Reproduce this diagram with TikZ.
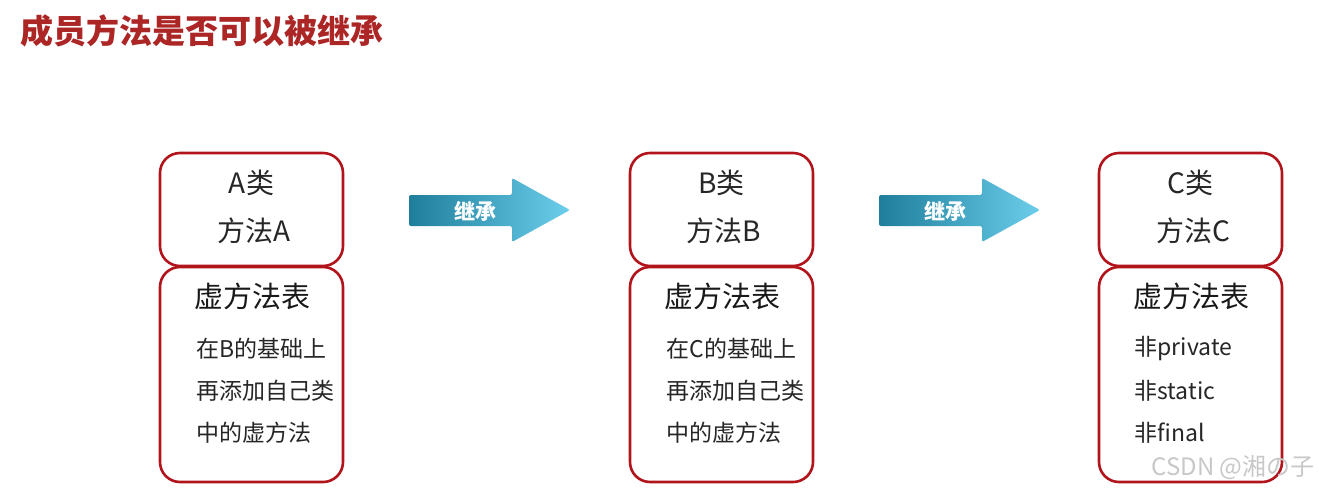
\documentclass[tikz,border=0pt]{standalone}
\usepackage{fontspec}
\setmainfont{Noto Sans CJK SC}
\definecolor{boxred}{RGB}{178,20,28}
\definecolor{titlered}{RGB}{172,38,38}
\definecolor{tealdark}{RGB}{30,126,156}
\definecolor{teallight}{RGB}{108,206,234}
\definecolor{wmgray}{RGB}{200,200,200}
\begin{document}
\begin{tikzpicture}[x=1pt,y=-1pt,
  box/.style={draw=boxred,line width=2.6pt,rounded corners=20pt,minimum width=183pt,inner sep=0pt,fill=white},
  headtxt/.style={font=\fontsize{28}{33}\selectfont,text=black!85},
  vttxt/.style={font=\fontsize{29}{34}\selectfont,text=black!90},
  itemtxt/.style={font=\fontsize{23}{28}\selectfont,text=black!85,anchor=west},
  arrowtxt/.style={font=\fontsize{21}{25}\selectfont\bfseries,text=white}]
\useasboundingbox (0,0) rectangle (1319,490);
\fill[white] (0,0) rectangle (1319,490);
\node[anchor=west,font=\fontsize{33}{38}\selectfont\bfseries,text=titlered] (title) at (17,31) {成员方法是否可以被继承};

% arrows
\foreach \dx/\nm in {0/ar1,470/ar2}{
  \begin{scope}[xshift=\dx]
  \shade[left color=tealdark,right color=teallight,rounded corners=2pt]
    (409,195) -- (512,195) -- (512,178) -- (570,210) -- (512,242) -- (512,226) -- (409,226) -- cycle;
  \node[arrowtxt] (\nm) at (475,211) {继承};
  \end{scope}
}

% boxes
\foreach \dx/\L/\nm in {0/A/a,470/B/b,939/C/c}{
  \begin{scope}[xshift=\dx]
  \node[box,minimum height=113pt] (\nm top) at (251.5,209.5) {};
  \node[box,minimum height=215pt] (\nm bot) at (251.5,374.5) {};
  \node[headtxt] (\nm cls) at (251.5,183) {\L 类};
  \node[headtxt] (\nm meth) at (254,231) {方法\L};
  \node[vttxt] (\nm vt) at (252,296) {虚方法表};
  \end{scope}
}
\node[itemtxt] (a1) at (193,349) {在B的基础上};
\node[itemtxt] (a2) at (193,391) {再添加自己类};
\node[itemtxt] (a3) at (193,433) {中的虚方法};
\node[itemtxt] (b1) at (663,349) {在C的基础上};
\node[itemtxt] (b2) at (663,391) {再添加自己类};
\node[itemtxt] (b3) at (663,433) {中的虚方法};
\node[itemtxt] (c1) at (1131,349) {非private};
\node[itemtxt] (c2) at (1131,391) {非static};
\node[itemtxt] (c3) at (1131,433) {非final};

\node[anchor=east,font=\fontsize{24}{28}\selectfont,text=wmgray] (wm) at (1318,467) {CSDN @湘の子};
\end{tikzpicture}
\end{document}
